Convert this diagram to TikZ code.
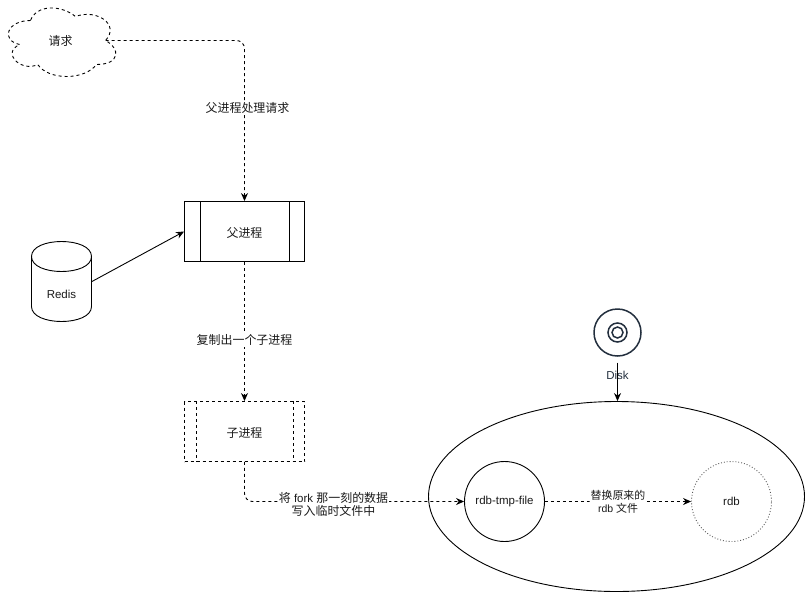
\documentclass[tikz,border=0pt]{standalone}
\usepackage{fontspec}
\usepackage{xcolor}
\setmainfont{Liberation Sans}
\newfontfamily\cjk[Scale=1.04]{Noto Sans CJK SC}
\usetikzlibrary{arrows.meta,positioning,shapes.geometric}
\definecolor{diskink}{HTML}{232F3E}
\definecolor{inktext}{HTML}{1A1A1A}

\begin{document}
\begin{tikzpicture}[x=1pt,y=-1pt,line width=0.9pt,font=\fontsize{11.5}{13}\selectfont,text=inktext,
  flow/.style={dash pattern=on 3pt off 3pt,rounded corners=8pt,-{Stealth[length=8pt,width=7pt]}},
  solidflow/.style={-{Stealth[length=8pt,width=7pt]}},
  edgelabel/.style={fill=white,inner sep=1pt,align=center},
  procbox/.style={draw,minimum width=120pt,minimum height=60pt,inner sep=0pt},
  roundbox/.style={draw,circle,minimum size=80pt,inner sep=0pt}]
\useasboundingbox (-0.5,-0.5) rectangle (804.5,591.5);

\node[minimum width=120pt,minimum height=80pt,inner sep=0pt] (reqcloud) at (60,40) {\raisebox{-5pt}[0pt][0pt]{\cjk 请求}};
\draw[dash pattern=on 3pt off 3pt] (30,20) .. controls (6,20) and (0,40) .. (19.2,44)
  .. controls (0,52.8) and (21.6,72) .. (37.2,64)
  .. controls (48,80) and (84,80) .. (96,64)
  .. controls (120,64) and (120,48) .. (105,40)
  .. controls (120,24) and (96,8) .. (75,16)
  .. controls (60,4) and (36,4) .. (30,20) -- cycle;
\coordinate (cloudtail) at (105,40);

\node[procbox] (parentproc) at (244,231) {\raisebox{-5.5pt}[0pt][0pt]{\cjk 父进程}};
\node[procbox,dash pattern=on 3pt off 3pt] (childproc) at (244,431) {\raisebox{-5.5pt}[0pt][0pt]{\cjk 子进程}};
\draw ([xshift=16pt]parentproc.north west) -- ([xshift=16pt]parentproc.south west);
\draw ([xshift=-16pt]parentproc.north east) -- ([xshift=-16pt]parentproc.south east);
\draw[dash pattern=on 3pt off 3pt] ([xshift=12pt]childproc.north west) -- ([xshift=12pt]childproc.south west);
\draw[dash pattern=on 3pt off 3pt] ([xshift=-12pt]childproc.north east) -- ([xshift=-12pt]childproc.south east);

\node[minimum width=60pt,minimum height=80pt,inner sep=0pt] (redisdb) at (61,281) {};
\draw[shift={(31,241)}] (0,15) .. controls (0,-5) and (60,-5) .. (60,15) -- (60,65)
  .. controls (60,85) and (0,85) .. (0,65) -- cycle
  (0,15) .. controls (0,35) and (60,35) .. (60,15);
\node (redislabel) at (61,294) {Redis};

\node[draw,ellipse,minimum width=376pt,minimum height=190pt,inner sep=0pt] (diskarea) at (616,496) {};
\node[roundbox] (tmpfile) at (504,501) {rdb-tmp-file};
\node[roundbox,dotted,draw=black!65] (rdbfile) at (731,501) {rdb};

\node[draw=diskink,circle,line width=1.5pt,minimum size=47pt,inner sep=0pt] (diskouter) at (617,332) {};
\node[draw=diskink,circle,line width=1.5pt,minimum size=19pt,inner sep=0pt] (diskmid) at (617,332) {};
\node[draw=diskink,circle,line width=1.5pt,minimum size=11pt,inner sep=0pt] (diskinner) at (617,332) {};
\node[text=diskink] (disklabel) at (617,375) {Disk};
\coordinate (diskfoot) at (617,362);

\draw[flow] (cloudtail) -| (parentproc.north);
\node[edgelabel] (parentnote) at (247,107) {\cjk 父进程处理请求};
\draw[solidflow] (redisdb.east) -- (parentproc.west);
\draw[flow] (parentproc.south) -- node[edgelabel,pos=0.564] (forknote) {\cjk 复制出一个子进程} (childproc.north);
\draw[flow] (childproc.south) |- (tmpfile.west);
\node[edgelabel] (writenote) at (333,503.5) {{\cjk 将} fork {\cjk 那一刻的数据}\\{\cjk 写入临时文件中}};
\draw[flow] (tmpfile.east) -- node[edgelabel,font=\fontsize{10.5}{13}\selectfont] (swapnote) {{\cjk 替换原来的}\\rdb {\cjk 文件}} (rdbfile.west);
\draw[solidflow] (diskfoot) -- (diskfoot |- diskarea.north);
\end{tikzpicture}
\end{document}
